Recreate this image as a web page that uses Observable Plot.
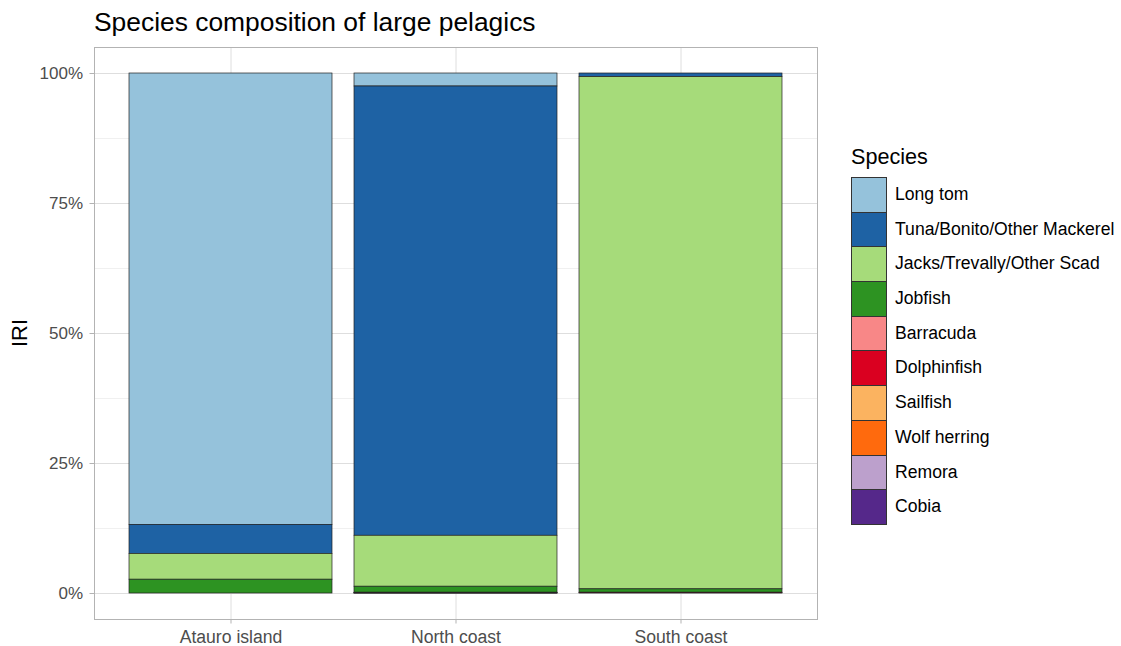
<!DOCTYPE html>
<html>
<head>
<meta charset="utf-8">
<script src="https://cdn.jsdelivr.net/npm/d3@7"></script>
<script src="https://cdn.jsdelivr.net/npm/@observablehq/plot@0.6"></script>
<style>
  html, body { margin: 0; padding: 0; background: #fff; }
  #wrap { position: relative; width: 1121px; height: 646px; font-family: "Liberation Sans", Arial, sans-serif; }
  #title { position: absolute; left: 94px; top: 7px; font-size: 26.4px; color: #000; white-space: nowrap; }
  #ylab { position: absolute; left: 20px; top: 333px; font-size: 22px; color: #000; transform: translate(-50%, -50%) rotate(-90deg); white-space: nowrap; }
  #legend { position: absolute; left: 851px; top: 142px; }
  #legend .ttl { font-size: 21.6px; color: #000; height: 35px; line-height: 30px; }
  #legend .row { position: relative; height: 34.7px; }
  #legend .key { position: absolute; left: 0; top: 0; width: 33.5px; height: 33.7px; border: 0.6px solid #333; box-sizing: content-box; }
  #legend .lab { position: absolute; left: 44px; top: 0; line-height: 34.7px; font-size: 17.6px; color: #000; white-space: nowrap; }
</style>
</head>
<body>
<div id="wrap">
  <div id="title">Species composition of large pelagics</div>
  <div id="ylab">IRI</div>
  <div id="legend"></div>
</div>
<script>
const sites = ["Atauro island", "North coast", "South coast"];
const species = ["Long tom", "Tuna/Bonito/Other Mackerel", "Jacks/Trevally/Other Scad", "Jobfish",
                 "Barracuda", "Dolphinfish", "Sailfish", "Wolf herring", "Remora", "Cobia"];
const colors = ["#95C2DB", "#1E62A4", "#A6DB7A", "#2D9322", "#F88787", "#DA0020", "#FBB360", "#FF6A0D", "#BCA0CC", "#55288A"];
// IRI percentages per site, in species order
const atauro = [86.8, 5.6, 4.95, 2.65, 0, 0, 0, 0, 0, 0];
const north  = [2.5, 86.4, 9.8, 1.15, 0.08, 0.04, 0.01, 0.01, 0, 0.01];
const south  = [0, 0.7, 98.5, 0.65, 0.1, 0.05, 0, 0, 0, 0];
const yTicks = [0, 0.25, 0.5, 0.75, 1];
const yMinor = [0.125, 0.375, 0.625, 0.875];

const siteValues = [atauro, north, south];
const data = [];
sites.forEach((s, i) => species.forEach((sp, j) => {
  if (siteValues[i][j] > 0) data.push({site: s, species: sp, value: siteValues[i][j]});
}));
const stackOrder = species.slice().reverse();

const chart = Plot.plot({
  width: 1121,
  height: 646,
  marginLeft: 94,
  marginRight: 304,
  marginTop: 47,
  marginBottom: 27,
  style: {fontFamily: '"Liberation Sans", Arial, sans-serif', background: "transparent"},
  x: {domain: sites, paddingInner: 0.1, paddingOuter: 0.15, axis: null},
  y: {domain: [-0.05, 1.05], axis: null},
  color: {domain: species, range: colors},
  marks: [
    Plot.ruleY(yMinor, {stroke: "#E6E6E6", strokeWidth: 0.6}),
    Plot.ruleY(yTicks, {stroke: "#DEDEDE", strokeWidth: 1}),
    Plot.ruleX(sites, {x: d => d, stroke: "#DEDEDE", strokeWidth: 1}),
    Plot.barY(data, Plot.stackY({offset: "normalize", order: stackOrder},
      {x: "site", y: "value", fill: "species", z: "species", stroke: "#222", strokeWidth: 0.7, inset: 0})),
    Plot.frame({stroke: "#B3B3B3", strokeWidth: 1}),
    Plot.axisY({ticks: yTicks, tickFormat: d => Math.round(d * 100) + "%", tickSize: 4.5, tickPadding: 7,
      stroke: "#B3B3B3", fill: "#4D4D4D", fontSize: 17, label: null}),
    Plot.axisX({tickSize: 4.5, tickPadding: 6, stroke: "#B3B3B3", fill: "#4D4D4D", fontSize: 17.6, label: null})
  ]
});
document.getElementById("wrap").prepend(chart);
chart.style.position = "absolute";
chart.style.left = "0";
chart.style.top = "0";

const legend = document.getElementById("legend");
const ttl = document.createElement("div");
ttl.className = "ttl";
ttl.textContent = "Species";
legend.appendChild(ttl);
species.forEach((sp, i) => {
  const row = document.createElement("div");
  row.className = "row";
  const key = document.createElement("div");
  key.className = "key";
  key.style.background = colors[i];
  const lab = document.createElement("div");
  lab.className = "lab";
  lab.textContent = sp;
  row.appendChild(key);
  row.appendChild(lab);
  legend.appendChild(row);
});
</script>
</body>
</html>
